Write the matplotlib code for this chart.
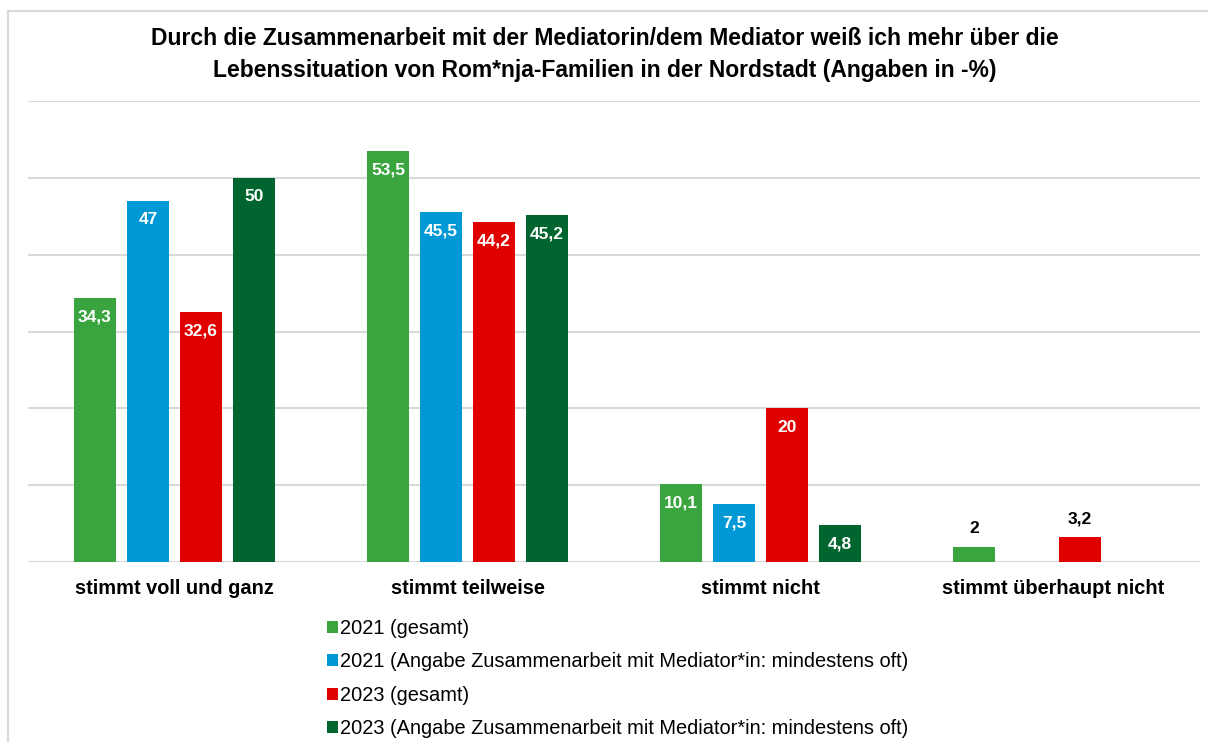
import numpy as np
import matplotlib
matplotlib.use("Agg")
import matplotlib.pyplot as plt
from matplotlib.lines import Line2D
from matplotlib.patches import Patch

plt.rcParams['font.family'] = ['Liberation Sans', 'DejaVu Sans']

title = ("Durch die Zusammenarbeit mit der Mediatorin/dem Mediator weiß ich mehr über die\n"
         "Lebenssituation von Rom*nja-Familien in der Nordstadt (Angaben in -%)")
categories = ["stimmt voll und ganz", "stimmt teilweise", "stimmt nicht", "stimmt überhaupt nicht"]
series_names = ["2021 (gesamt)",
                "2021 (Angabe Zusammenarbeit mit Mediator*in: mindestens oft)",
                "2023 (gesamt)",
                "2023 (Angabe Zusammenarbeit mit Mediator*in: mindestens oft)"]
s2021_gesamt = [34.3, 53.5, 10.1, 2.0]
s2021_mediator = [47.0, 45.5, 7.5, np.nan]
s2023_gesamt = [32.6, 44.2, 20.0, 3.2]
s2023_mediator = [50.0, 45.2, 4.8, np.nan]
colors = ["#3AA53E", "#0099D6", "#E00000", "#00652E"]

series = [s2021_gesamt, s2021_mediator, s2023_gesamt, s2023_mediator]

W, H = 1208, 742
fig = plt.figure(figsize=(W / 100, H / 100), dpi=100)
ax = fig.add_axes([28 / W, 1 - 562 / H, (1200 - 28) / W, (562 - 101) / H])

x = np.arange(len(categories))
bw = 42 / 293
step = 53 / 293
for i, (vals, col) in enumerate(zip(series, colors)):
    offs = (i - 1.5) * step
    v = np.array(vals, dtype=float)
    ax.bar(x + offs, np.nan_to_num(v), width=bw, color=col, zorder=3,
           label=series_names[i])
    for xi, val in zip(x + offs, v):
        if np.isnan(val):
            continue
        txt = f"{val:g}".replace('.', ',')
        if val >= 4:
            ax.annotate(txt, (xi, val), xytext=(0, -19), textcoords='offset pixels',
                        ha='center', va='center', color='white', fontweight='bold',
                        fontsize=12.5, zorder=4)
        else:
            ax.annotate(txt, (xi, val), xytext=(0, 18), textcoords='offset pixels',
                        ha='center', va='center', color='black', fontweight='bold',
                        fontsize=12.5, zorder=4)

ax.set_xlim(-0.5, 3.5)
ax.set_ylim(0, 60)
ax.set_yticks(np.arange(0, 61, 10))
ax.yaxis.grid(True, color='#D9D9D9', linewidth=1.5, zorder=0)
ax.set_axisbelow(True)
for sp in ax.spines.values():
    sp.set_visible(False)
ax.tick_params(axis='y', left=False, labelleft=False)
ax.tick_params(axis='x', bottom=False, pad=9)
ax.set_xticks(x)
ax.set_xticklabels(categories, fontsize=14.4, fontweight='bold')

fig.text(605 / W, 1 - 54.5 / H, title, ha='center', va='center', fontsize=16.5,
         fontweight='bold', linespacing=1.47)

handles = [Patch(facecolor=c, edgecolor='none') for c in colors]
fig.legend(handles, series_names, loc='upper left', bbox_to_anchor=(327 / W, 1 - 619 / H),
           frameon=False, fontsize=14.45, handlelength=0.55, handleheight=0.55,
           handletextpad=0.1, labelspacing=0.72, borderaxespad=0, borderpad=0)

# outer frame
fig.add_artist(Line2D([8 / W, 8 / W], [0, 1 - 11 / H], color='#D9D9D9', lw=1.5,
                      transform=fig.transFigure))
fig.add_artist(Line2D([8 / W, 1], [1 - 11 / H, 1 - 11 / H], color='#D9D9D9', lw=1.5,
                      transform=fig.transFigure))

fig.savefig("out.png", dpi=100)
